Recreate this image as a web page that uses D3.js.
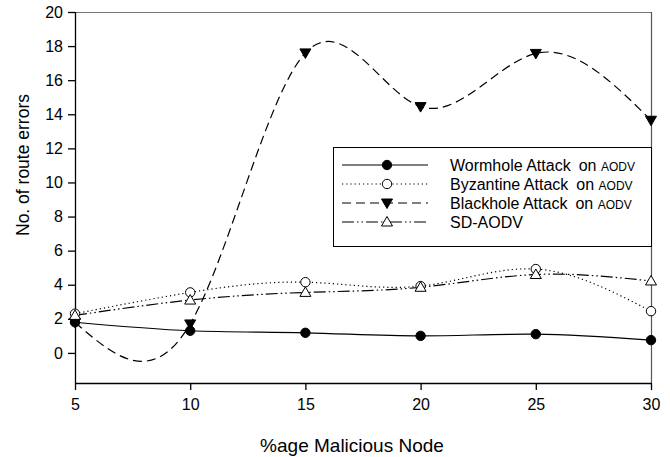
<!DOCTYPE html>
<html><head><meta charset="utf-8">
<script src="https://cdn.jsdelivr.net/npm/d3@7"></script>
<style>body{margin:0;background:#fff}svg{display:block}text{font-family:"Liberation Sans",Arial,sans-serif;fill:#000}</style>
</head><body><svg id="c" width="670" height="457"></svg>
<script>
const xValues = [5, 10, 15, 20, 25, 30];
const wormhole = [1.8, 1.3, 1.18, 1.0, 1.1, 0.75];
const byzantine = [2.3, 3.55, 4.15, 3.92, 4.92, 2.45];
const blackhole = [1.8, 1.7, 17.6, 14.45, 17.57, 13.65];
const sdaodv = [2.2, 3.1, 3.55, 3.85, 4.6, 4.22];
const seriesNames = ["Wormhole Attack", "Byzantine Attack", "Blackhole Attack", "SD-AODV"];
const seriesSuffix = ["on AODV", "on AODV", "on AODV", ""];
const xTicks = [5, 10, 15, 20, 25, 30];
const yTicks = [0, 2, 4, 6, 8, 10, 12, 14, 16, 18, 20];

const svg = d3.select("#c");
const L = 75, R = 651, T = 12, B = 383;
const x = d3.scaleLinear().domain([5, 30]).range([L, R]);
const y = d3.scaleLinear().domain([-1.765, 20]).range([B, T]);

// frame top/right
svg.append("line").attr("x1", L).attr("x2", R).attr("y1", T + 0.5).attr("y2", T + 0.5).attr("stroke", "#777").attr("stroke-width", 1.2);
svg.append("line").attr("x1", R + 0.5).attr("x2", R + 0.5).attr("y1", T).attr("y2", B).attr("stroke", "#555").attr("stroke-width", 1.2);

const yAxis = svg.append("g").attr("transform", `translate(${L},0)`)
  .call(d3.axisLeft(y).tickValues(yTicks).tickSize(7).tickPadding(5).tickFormat(d3.format("d")));
const xAxis = svg.append("g").attr("transform", `translate(0,${B})`)
  .call(d3.axisBottom(x).tickValues(xTicks).tickSize(7).tickPadding(9).tickFormat(d3.format("d")));
[yAxis, xAxis].forEach(a => {
  a.selectAll("text").attr("font-size", 16).attr("font-family", "Liberation Sans, Arial, sans-serif").attr("fill", "#000");
  a.selectAll("line,path").attr("stroke", "#000").attr("stroke-width", 1.3);
});
yAxis.select(".domain").attr("d", `M0.5,${T}V${B}`);
xAxis.select(".domain").attr("d", `M${L},0.5H${R}`);

svg.append("text").attr("transform", `translate(29,165) rotate(-90)`)
  .attr("text-anchor", "middle").attr("font-size", 17.5).text("No. of route errors");
svg.append("text").attr("x", 352).attr("y", 452).attr("text-anchor", "middle").attr("font-size", 19).text("%age Malicious Node");

const series = [
  {v: wormhole, dash: null, marker: "circle", fill: "#000"},
  {v: byzantine, dash: "1.2,3", marker: "circle", fill: "#fff"},
  {v: blackhole, dash: "9,5", marker: "tridown", fill: "#000"},
  {v: sdaodv, dash: "12,3,1.5,3,1.5,3", marker: "triup", fill: "#fff"}
];

const line = d3.line().x((d, i) => x(xValues[i])).y(d => y(d)).curve(d3.curveNatural);

function marker(g, type, fill, cx, cy) {
  if (type === "circle") {
    g.append("circle").attr("cx", cx).attr("cy", cy).attr("r", 4.7).attr("fill", fill).attr("stroke", "#000").attr("stroke-width", 1);
  } else if (type === "tridown") {
    g.append("path").attr("d", `M${cx - 5.5},${cy - 4}L${cx + 5.5},${cy - 4}L${cx},${cy + 5.5}Z`).attr("fill", fill).attr("stroke", "#000").attr("stroke-width", 1);
  } else {
    g.append("path").attr("d", `M${cx - 5.5},${cy + 4}L${cx + 5.5},${cy + 4}L${cx},${cy - 5.5}Z`).attr("fill", fill).attr("stroke", "#000").attr("stroke-width", 1);
  }
}

series.forEach(s => {
  svg.append("path").attr("d", line(s.v)).attr("fill", "none").attr("stroke", "#000").attr("stroke-width", 1.2)
    .attr("stroke-dasharray", s.dash);
});
series.forEach(s => {
  const g = svg.append("g");
  s.v.forEach((d, i) => marker(g, s.marker, s.fill, x(xValues[i]), y(d)));
});

// legend
const lg = svg.append("g");
lg.append("rect").attr("x", 333.5).attr("y", 147.5).attr("width", 318).attr("height", 99).attr("fill", "#fff").attr("stroke", "#000").attr("stroke-width", 1);
const rowY = [165, 184, 203, 222];
series.forEach((s, i) => {
  lg.append("line").attr("x1", 342).attr("x2", 428).attr("y1", rowY[i]).attr("y2", rowY[i]).attr("stroke", "#000").attr("stroke-width", 1.2).attr("stroke-dasharray", s.dash);
  marker(lg, s.marker, s.fill, 387, rowY[i]);
  const t = lg.append("text").attr("x", 450).attr("y", rowY[i] + 5.5).attr("font-size", 16);
  t.append("tspan").text(seriesNames[i]);
  if (seriesSuffix[i]) {
    const parts = seriesSuffix[i].split(" ");
    t.append("tspan").attr("dx", 8).text(parts[0] + " ");
    t.append("tspan").attr("font-size", 12).text(parts[1]);
  }
});
</script></body></html>
